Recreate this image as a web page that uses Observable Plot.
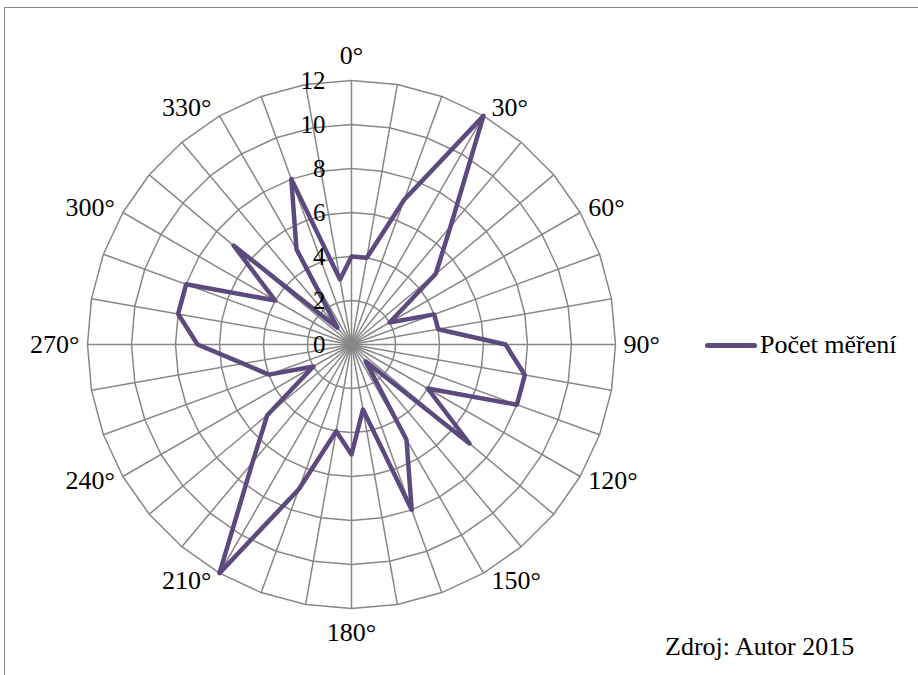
<!DOCTYPE html>
<html>
<head>
<meta charset="utf-8">
<script src="https://cdn.jsdelivr.net/npm/d3@7"></script>
<script src="https://cdn.jsdelivr.net/npm/@observablehq/plot@0.6"></script>
<style>
  html, body { margin: 0; padding: 0; background: #fff; overflow: hidden; }
  #wrap { position: relative; width: 918px; height: 675px; font-family: "Liberation Serif", "Times New Roman", serif; color: #000; }
  #frame { position: absolute; left: 4px; top: 7px; width: 1000px; height: 1000px; border: 1.5px solid #8a8a8a; box-sizing: border-box; }
  #chart { position: absolute; left: 0; top: 0; }
  #legend { position: absolute; left: 705px; top: 330px; height: 30px; display: flex; align-items: center; font-size: 26px; }
  #legend .swatch { width: 52px; height: 5px; border-radius: 3px; margin-right: 3px; }
  #caption { position: absolute; left: 665px; top: 632px; font-size: 26px; line-height: 30px; }
</style>
</head>
<body>
<div id="wrap">
  <div id="frame"></div>
  <div id="chart"></div>
  <div id="legend"><span class="swatch"></span><span id="legendText"></span></div>
  <div id="caption"></div>
</div>
<script>
// ---- data ----
const angles = [0,10,20,30,40,50,60,70,80,90,100,110,120,130,140,150,160,170,
                180,190,200,210,220,230,240,250,260,270,280,290,300,310,320,330,340,350];
const counts = [4,4,7,12,7,5,2,4,4,7,8,8,4,7,1,5,8,3,
                5,4,7,12,7,5,2,4,5,7,8,8,4,7,1,5,8,3];
const seriesName = "Počet měření";
const angleTicks = [0,30,60,90,120,150,180,210,240,270,300,330];
const angleTickLabels = ["0°","30°","60°","90°","120°","150°","180°","210°","240°","270°","300°","330°"];
const radialTicks = [0,2,4,6,8,10,12];
const radialTickLabels = ["0","2","4","6","8","10","12"];
const captionText = "Zdroj: Autor 2015";

// ---- styling / geometry ----
const W = 918, H = 675;
const cx = 351, cy = 344, unit = 22;          // centre in px, px per unit
const rMax = 12;
const lineColor = "#5c4a7e";
const gridColor = "#878787";

const rad = a => a * Math.PI / 180;
const px = (a, v) => v * Math.sin(rad(a));
const py = (a, v) => v * Math.cos(rad(a));

const ringRows = [];
for (const v of radialTicks.filter(v => v > 0)) {
  for (const a of angles) ringRows.push({ring: v, x: px(a, v), y: py(a, v)});
}
const series = angles.map((a, i) => ({x: px(a, counts[i]), y: py(a, counts[i])}));

// category labels sit just outside the outer ring, anchored by side (like Excel)
const labelRows = angleTicks.map((a, i) => {
  const s = Math.sin(rad(a)), c = Math.cos(rad(a));
  const side = Math.abs(s) < 1e-6 ? "middle" : (s > 0 ? "start" : "end");
  const offX = side === "middle" ? 0 : 8 * Math.sign(s);               // px
  const offY = side === "middle" ? (c > 0 ? 25 : -24) : 9 * c;          // px, upward positive
  return {side, text: angleTickLabels[i], x: px(a, rMax) + offX / unit, y: py(a, rMax) + offY / unit};
});
const labelMark = side => Plot.text(labelRows.filter(d => d.side === side), {
  x: "x", y: "y", text: "text", textAnchor: side, fontSize: 26, fill: "#000"
});

const chart = Plot.plot({
  width: W,
  height: H,
  margin: 0,
  style: {fontFamily: '"Liberation Serif", "Times New Roman", serif', background: "transparent", overflow: "visible"},
  x: {domain: [-cx / unit, (W - cx) / unit], axis: null},
  y: {domain: [-(H - cy) / unit, cy / unit], axis: null},
  marks: [
    Plot.link(angles, {
      x1: () => 0, y1: () => 0,
      x2: a => px(a, rMax), y2: a => py(a, rMax),
      stroke: gridColor, strokeWidth: 1.5
    }),
    Plot.line(ringRows, {x: "x", y: "y", z: "ring", curve: "linear-closed", stroke: gridColor, strokeWidth: 1.5}),
    Plot.line(series, {x: "x", y: "y", curve: "linear-closed", stroke: lineColor, strokeWidth: 4.5, strokeLinejoin: "round"}),
    Plot.text(radialTicks, {
      x: () => 0, y: v => v,
      text: (v, i) => radialTickLabels[i],
      textAnchor: "end", dx: -26, fontSize: 25, fill: "#000"
    }),
    labelMark("start"),
    labelMark("end"),
    labelMark("middle")
  ]
});
document.getElementById("chart").appendChild(chart);
document.querySelector("#legend .swatch").style.background = lineColor;
document.getElementById("legendText").textContent = seriesName;
document.getElementById("caption").textContent = captionText;
</script>
</body>
</html>
